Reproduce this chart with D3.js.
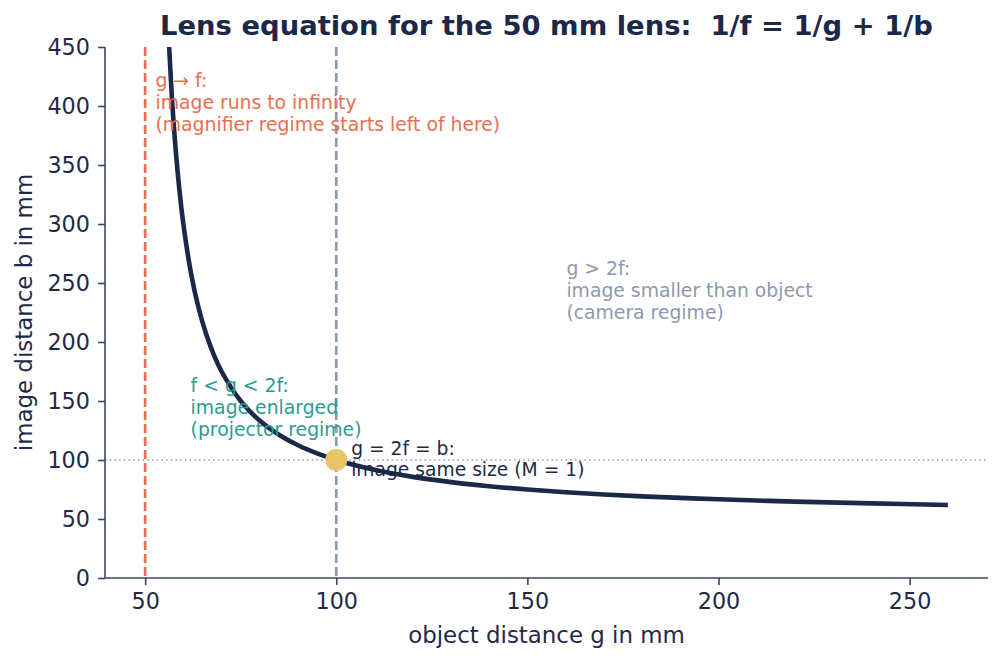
<!DOCTYPE html>
<html>
<head>
<meta charset="utf-8">
<script src="https://cdn.jsdelivr.net/npm/d3@7"></script>
<style>
  html, body { margin: 0; padding: 0; background: #ffffff; }
  svg { display: block; font-family: "DejaVu Sans", sans-serif; }
</style>
</head>
<body>
<svg id="chart" width="1003" height="662"></svg>
<script>
// ---- data ----
const objectDistance = [52, 53, 54, 55, 56, 57, 58, 59, 60, 62, 64, 66, 68, 70, 75, 80, 85, 90, 95, 100,
  110, 120, 130, 140, 150, 160, 170, 180, 190, 200, 220, 240, 260];
const imageDistance = [1300, 883.3, 675, 550, 466.7, 407.1, 362.5, 327.8, 300, 258.3, 228.6, 206.3, 188.9, 175,
  150, 133.3, 121.4, 112.5, 105.6, 100, 91.7, 85.7, 81.25, 77.8, 75, 72.7, 70.8, 69.2, 67.9, 66.7, 64.7, 63.2, 61.9];
const focalLength = 50;
const twoF = 100;
const equalPoint = [100, 100];
const xTicks = [50, 100, 150, 200, 250];
const yTicks = [0, 50, 100, 150, 200, 250, 300, 350, 400, 450];
const xDomain = [39.5, 270.5];
const yDomain = [0, 450];

const titleText = "Lens equation for the 50 mm lens:\u00a0\u00a01/f = 1/g + 1/b";
const xLabel = "object distance g in mm";
const yLabel = "image distance b in mm";
const noteInfinity = ["g \u2192 f:", "image runs to infinity", "(magnifier regime starts left of here)"];
const noteProjector = ["f < g < 2f:", "image enlarged", "(projector regime)"];
const noteCamera = ["g > 2f:", "image smaller than object", "(camera regime)"];
const noteEqual = ["g = 2f = b:", "image same size (M = 1)"];

// ---- layout ----
const W = 1003, H = 662;
const plot = { left: 105, right: 988, top: 47, bottom: 578 };
const C = {
  navy: "#1b2848", orange: "#e76f51", green: "#2a9d8f", gray: "#8d99ae",
  yellow: "#e9c46a", axis: "#3b4662", text: "#1f2a48"
};

const svg = d3.select("#chart");
const x = d3.scaleLinear().domain(xDomain).range([plot.left, plot.right]);
const y = d3.scaleLinear().domain(yDomain).range([plot.bottom, plot.top]);

svg.append("defs").append("clipPath").attr("id", "clip")
  .append("rect").attr("x", plot.left).attr("y", plot.top)
  .attr("width", plot.right - plot.left).attr("height", plot.bottom - plot.top);

const g = svg.append("g").attr("clip-path", "url(#clip)");

// horizontal dotted line at b = 2f
g.append("line")
  .attr("x1", plot.left).attr("x2", plot.right)
  .attr("y1", y(twoF)).attr("y2", y(twoF))
  .attr("stroke", C.gray).attr("stroke-width", 1.4).attr("stroke-dasharray", "1.5,3.2");

// vertical dashed lines
g.append("line")
  .attr("x1", x(focalLength)).attr("x2", x(focalLength))
  .attr("y1", plot.top).attr("y2", plot.bottom)
  .attr("stroke", C.orange).attr("stroke-width", 2.7).attr("stroke-dasharray", "9,4");
g.append("line")
  .attr("x1", x(twoF)).attr("x2", x(twoF))
  .attr("y1", plot.top).attr("y2", plot.bottom)
  .attr("stroke", C.gray).attr("stroke-width", 2.7).attr("stroke-dasharray", "9,4");

// curve
const pts = objectDistance.map((d, i) => [d, imageDistance[i]]);
g.append("path")
  .datum(pts)
  .attr("fill", "none")
  .attr("stroke", C.navy)
  .attr("stroke-width", 4.6)
  .attr("stroke-linejoin", "round")
  .attr("d", d3.line().x(d => x(d[0])).y(d => y(d[1])).curve(d3.curveCatmullRom.alpha(0.5)));

// equal point
g.append("circle")
  .attr("cx", x(equalPoint[0])).attr("cy", y(equalPoint[1]))
  .attr("r", 11).attr("fill", C.yellow);

// axes
const xAxis = svg.append("g").attr("transform", `translate(0,${plot.bottom})`)
  .call(d3.axisBottom(x).tickValues(xTicks).tickSize(7).tickPadding(8).tickFormat(d3.format("d")));
const yAxis = svg.append("g").attr("transform", `translate(${plot.left},0)`)
  .call(d3.axisLeft(y).tickValues(yTicks).tickSize(7).tickPadding(8).tickFormat(d3.format("d")));
[xAxis, yAxis].forEach(a => {
  a.select(".domain").attr("stroke", C.axis).attr("stroke-width", 1.6);
  a.selectAll(".tick line").attr("stroke", C.axis).attr("stroke-width", 1.6);
  a.selectAll(".tick text").attr("fill", C.text).attr("font-size", 22.3)
    .attr("font-family", "DejaVu Sans, sans-serif");
});
xAxis.select(".domain").attr("d", `M${plot.left},0H${plot.right}`);
yAxis.select(".domain").attr("d", `M0,${plot.bottom}V${plot.top}`);

// axis labels
svg.append("text")
  .attr("x", (plot.left + plot.right) / 2).attr("y", 643)
  .attr("text-anchor", "middle").attr("fill", C.text).attr("font-size", 22.9)
  .text(xLabel);
svg.append("text")
  .attr("transform", `translate(32,${(plot.top + plot.bottom) / 2}) rotate(-90)`)
  .attr("text-anchor", "middle").attr("fill", C.text).attr("font-size", 22.9)
  .text(yLabel);

// title
svg.append("text")
  .attr("x", (plot.left + plot.right) / 2).attr("y", 35)
  .attr("text-anchor", "middle").attr("fill", C.navy)
  .attr("font-size", 27.4).attr("font-weight", "bold")
  .text(titleText);

// annotations
function note(lines, gx, by, color, size, lh) {
  const t = svg.append("text").attr("fill", color).attr("font-size", size);
  lines.forEach((l, i) => {
    t.append("tspan").attr("x", x(gx)).attr("y", by + i * lh).text(l);
  });
}
note(noteInfinity, 52.7, 87, C.orange, 18.8, 22);
note(noteProjector, 61.9, 392, C.green, 18.8, 22);
note(noteCamera, 160.2, 275, C.gray, 18.8, 22);
note(noteEqual, 103.9, 455, C.text, 18.7, 21);
</script>
</body>
</html>
